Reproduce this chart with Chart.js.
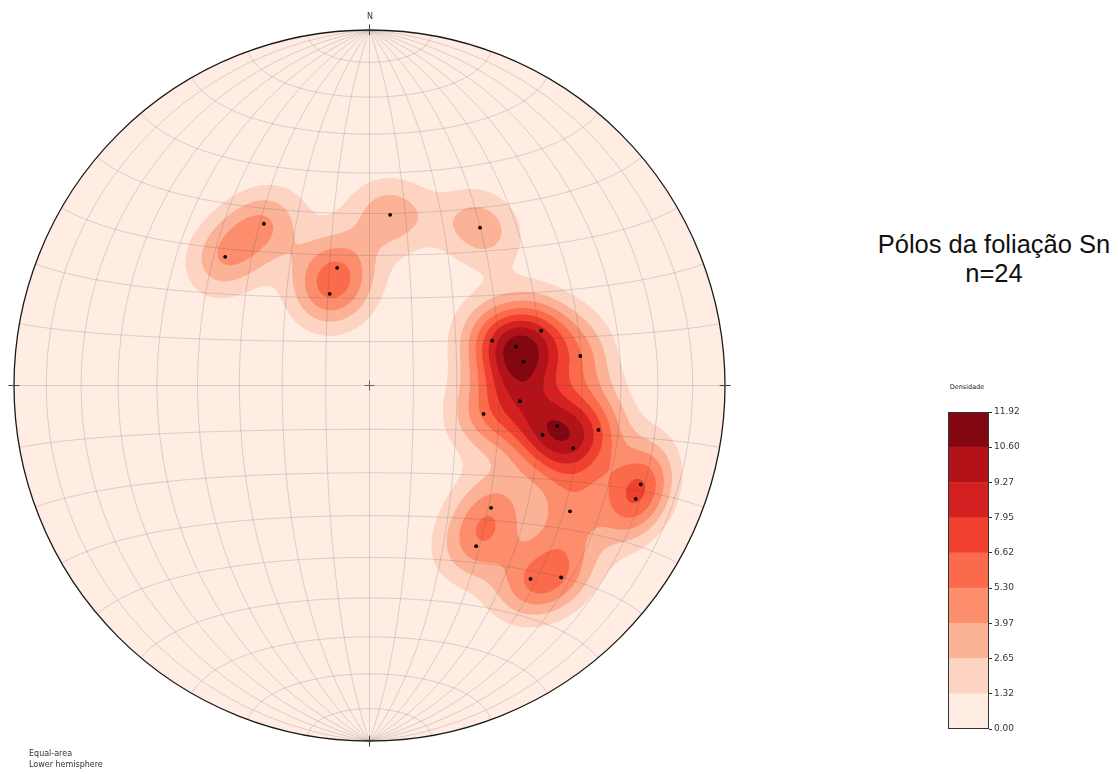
<!DOCTYPE html>
<html lang="pt">
<head>
<meta charset="UTF-8">
<title>Pólos da foliação Sn</title>
<script src="https://cdn.jsdelivr.net/npm/chart.js"></script>
<style>
  body { margin: 0; background: #fff; font-family: 'Liberation Sans', Arial, sans-serif; }
  #netBox { position: absolute; left: 0; top: 0; width: 740px; height: 774px; }
  #barBox { position: absolute; left: 940px; top: 400px; width: 100px; height: 345px; }
  .lbl { position: absolute; color: #333; white-space: nowrap; font-family: 'DejaVu Sans', sans-serif; }
  #title { position: absolute; left: 860px; top: 230px; width: 268px; text-align: center;
           font-size: 25.5px; line-height: 29px; color: #111; }
</style>
</head>
<body>

<div id="netBox"><canvas id="net"></canvas></div>
<div id="barBox"><canvas id="bar"></canvas></div>

<div id="title">Pólos da foliação Sn<br>n=24</div>
<div class="lbl" style="left:360px; top:12px; width:20px; text-align:center; font-size:8px;">N</div>
<div class="lbl" style="left:29px; top:749px; font-size:8px; line-height:10.5px;">Equal-area<br>Lower hemisphere</div>
<div class="lbl" style="left:937px; top:383px; width:60px; text-align:center; font-size:6.5px; color:#222;">Densidade</div>

<script>
  // poles (equal-area projection, unit circle, x east, y north)
  const poleX = [-0.297, -0.406, 0.058, 0.311, -0.091, -0.112, 0.345, 0.483, 0.412, 0.433, 0.593, 0.423,
                 0.321, 0.528, 0.487, 0.644, 0.573, 0.763, 0.749, 0.342, 0.564, 0.300, 0.453, 0.539];
  const poleY = [0.455, 0.362, 0.480, 0.444, 0.331, 0.258, 0.126, 0.154, 0.109, 0.067, 0.083, -0.044,
                 -0.080, -0.114, -0.139, -0.125, -0.176, -0.278, -0.319, -0.344, -0.354, -0.452, -0.544, -0.540];

  // contour levels (colorbar ticks)
  const levels = [0, 1.32, 2.65, 3.97, 5.30, 6.62, 7.95, 9.27, 10.60, 11.92];
  const bandColors = ['#ffece3', '#fdd4c2', '#fcb297', '#fc8e6e', '#fb6a4a', '#f0402f', '#d32020', '#b21218', '#830711'];

  const kernelF = 78; // exponential kernel, exp(f*(|cos d| - 1))

  function toSphere(u, v) {
    const z = 1 - (u * u + v * v);
    const s = Math.sqrt(1 + z);
    return [u * s, v * s, z];
  }

  function proj(latDeg, lonDeg) {
    const la = latDeg * Math.PI / 180, lo = lonDeg * Math.PI / 180;
    const x = Math.cos(la) * Math.sin(lo), y = Math.sin(la), z = Math.cos(la) * Math.cos(lo);
    const k = 1 / Math.sqrt(1 + z);
    return [x * k, y * k];
  }

  function hexRgb(h) {
    return [parseInt(h.slice(1, 3), 16), parseInt(h.slice(3, 5), 16), parseInt(h.slice(5, 7), 16)];
  }

  let densityCache = null;

  function buildDensity(chart) {
    const area = chart.chartArea;
    const xs = chart.scales.x, ys = chart.scales.y;
    const key = area.left + ',' + area.top + ',' + area.right + ',' + area.bottom;
    if (densityCache && densityCache.key === key) return densityCache;

    const x0 = Math.floor(area.left), y0 = Math.floor(area.top);
    const w = Math.ceil(area.right) - x0, h = Math.ceil(area.bottom) - y0;
    const sub = [0.25, 0.75];
    const us = [], vs = [];
    for (let i = 0; i < w; i++) for (const s of sub) us.push(xs.getValueForPixel(x0 + i + s));
    for (let j = 0; j < h; j++) for (const s of sub) vs.push(ys.getValueForPixel(y0 + j + s));

    const pts = poleX.map((x, i) => toSphere(x, poleY[i]));
    const cut = 1 - 12 / kernelF;
    const W = us.length, H = vs.length;
    const raw = new Float32Array(W * H);
    let maxVal = 0;
    for (let j = 0; j < H; j++) {
      const v = vs[j];
      for (let i = 0; i < W; i++) {
        const u = us[i];
        if (u * u + v * v > 1) { raw[j * W + i] = -1; continue; }
        const g = toSphere(u, v);
        let sum = 0;
        for (const p of pts) {
          const c = Math.abs(g[0] * p[0] + g[1] * p[1] + g[2] * p[2]);
          if (c > cut) sum += Math.exp(kernelF * (c - 1));
        }
        raw[j * W + i] = sum;
        if (sum > maxVal) maxVal = sum;
      }
    }
    const scale = levels[levels.length - 1] / maxVal;
    const rgb = bandColors.map(hexRgb);
    const off = document.createElement('canvas');
    off.width = w; off.height = h;
    const octx = off.getContext('2d');
    const img = octx.createImageData(w, h);
    for (let j = 0; j < h; j++) {
      for (let i = 0; i < w; i++) {
        let r = 0, gg = 0, b = 0, a = 0;
        for (let sj = 0; sj < 2; sj++) for (let si = 0; si < 2; si++) {
          const val = raw[(j * 2 + sj) * W + i * 2 + si];
          if (val < 0) continue;
          const d = val * scale;
          let k = 0;
          while (k < bandColors.length - 1 && d >= levels[k + 1]) k++;
          r += rgb[k][0]; gg += rgb[k][1]; b += rgb[k][2]; a++;
        }
        const o = (j * w + i) * 4;
        if (a > 0) {
          img.data[o] = r / a; img.data[o + 1] = gg / a; img.data[o + 2] = b / a;
          img.data[o + 3] = 255 * a / 4;
        }
      }
    }
    octx.putImageData(img, 0, 0);
    densityCache = { key, canvas: off, x0, y0 };
    return densityCache;
  }

  const netPlugin = {
    id: 'stereonet',
    beforeDatasetsDraw(chart) {
      const ctx = chart.ctx;
      const xs = chart.scales.x, ys = chart.scales.y;
      const px = (u, v) => [xs.getPixelForValue(u), ys.getPixelForValue(v)];
      const [cx, cy] = px(0, 0);
      const R = xs.getPixelForValue(1) - cx;

      const dens = buildDensity(chart);
      ctx.save();
      ctx.drawImage(dens.canvas, dens.x0, dens.y0);

      // net: great circles through N/S and small circles every 10 degrees
      ctx.strokeStyle = 'rgba(70,70,70,0.24)';
      ctx.lineWidth = 0.8;
      for (let lon = -80; lon <= 80; lon += 10) {
        ctx.beginPath();
        for (let lat = -90; lat <= 90; lat += 1) {
          const [u, v] = proj(lat, lon);
          const [x, y] = px(u, v);
          if (lat === -90) ctx.moveTo(x, y); else ctx.lineTo(x, y);
        }
        ctx.stroke();
      }
      for (let lat = -80; lat <= 80; lat += 10) {
        ctx.beginPath();
        for (let lon = -90; lon <= 90; lon += 1) {
          const [u, v] = proj(lat, lon);
          const [x, y] = px(u, v);
          if (lon === -90) ctx.moveTo(x, y); else ctx.lineTo(x, y);
        }
        ctx.stroke();
      }

      // primitive circle
      ctx.strokeStyle = '#1a1a1a';
      ctx.lineWidth = 1.3;
      ctx.beginPath();
      ctx.arc(cx, cy, R, 0, Math.PI * 2);
      ctx.stroke();

      // N/E/S/W ticks and centre cross
      ctx.strokeStyle = '#444';
      ctx.lineWidth = 1;
      [[0, 1], [1, 0], [0, -1], [-1, 0]].forEach(([a, b]) => {
        const [x1, y1] = px(a * 0.985, b * 0.985);
        const [x2, y2] = px(a * 1.016, b * 1.016);
        ctx.beginPath(); ctx.moveTo(x1, y1); ctx.lineTo(x2, y2); ctx.stroke();
      });
      ctx.strokeStyle = '#666';
      ctx.beginPath();
      ctx.moveTo(cx - 5, cy); ctx.lineTo(cx + 5, cy);
      ctx.moveTo(cx, cy - 5); ctx.lineTo(cx, cy + 5);
      ctx.stroke();
      ctx.restore();
    }
  };

  new Chart(document.getElementById('net'), {
    type: 'scatter',
    data: {
      datasets: [{
        data: poleX.map((x, i) => ({ x: x, y: poleY[i] })),
        pointRadius: 1.9,
        pointBackgroundColor: '#000',
        pointBorderWidth: 0
      }]
    },
    options: {
      responsive: true,
      maintainAspectRatio: false,
      animation: false,
      events: [],
      layout: { padding: { left: 14, top: 30, right: 15, bottom: 33 } },
      scales: {
        x: { type: 'linear', min: -1, max: 1, display: false },
        y: { type: 'linear', min: -1, max: 1, display: false }
      },
      plugins: { legend: { display: false }, tooltip: { enabled: false } }
    },
    plugins: [netPlugin]
  });

  // colorbar
  const outline = {
    id: 'outline',
    afterDatasetsDraw(chart) {
      const a = chart.chartArea, ctx = chart.ctx;
      ctx.save();
      ctx.strokeStyle = '#333';
      ctx.lineWidth = 1;
      ctx.strokeRect(Math.round(a.left) + 0.5, Math.round(a.top) + 0.5,
                     Math.round(a.right - a.left) - 1, Math.round(a.bottom - a.top) - 1);
      ctx.restore();
    }
  };

  new Chart(document.getElementById('bar'), {
    type: 'bar',
    data: {
      labels: ['Densidade'],
      datasets: bandColors.map((c, i) => ({
        data: [[levels[i], levels[i + 1]]],
        backgroundColor: c,
        borderWidth: 0,
        barPercentage: 1,
        categoryPercentage: 1,
        grouped: false
      }))
    },
    options: {
      responsive: true,
      maintainAspectRatio: false,
      animation: false,
      events: [],
      layout: { padding: { left: 8, top: 12, right: 0, bottom: 16 } },
      scales: {
        x: { display: false },
        y: {
          position: 'right',
          min: levels[0],
          max: levels[levels.length - 1],
          afterBuildTicks: (s) => { s.ticks = levels.map(v => ({ value: v })); },
          afterFit: (s) => { s.width = 51; },
          ticks: {
            callback: (v) => Number(v).toFixed(2),
            font: { size: 9, family: "'DejaVu Sans', sans-serif" },
            color: '#333',
            padding: 2,
            autoSkip: false
          },
          grid: { drawOnChartArea: false, tickLength: 3, color: '#333' },
          border: { display: false }
        }
      },
      plugins: { legend: { display: false }, tooltip: { enabled: false } }
    },
    plugins: [outline]
  });
</script>
</body>
</html>
